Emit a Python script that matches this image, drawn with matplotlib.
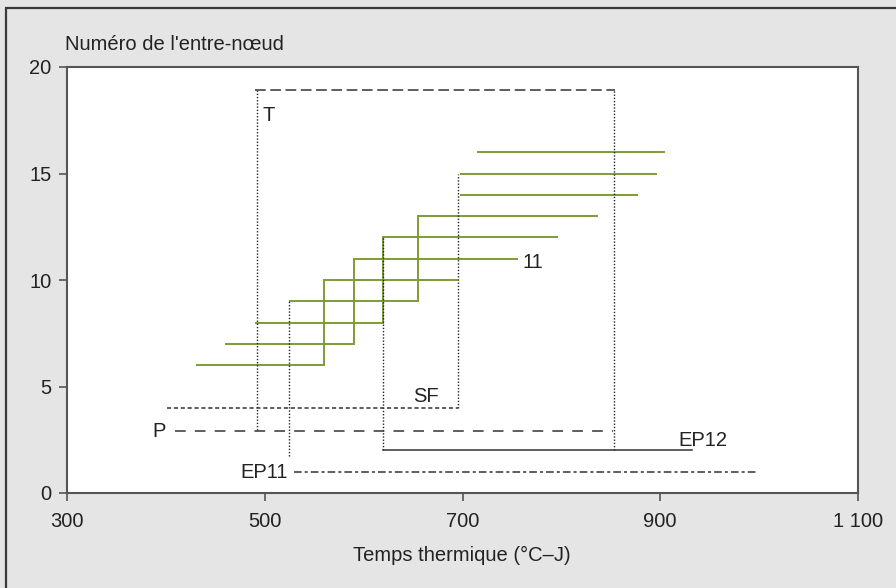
import matplotlib
matplotlib.use("Agg")
import matplotlib.pyplot as plt
from matplotlib.patches import Rectangle

plt.rcParams["font.family"] = ["Liberation Sans", "DejaVu Sans"]

# Internode number and its horizontal span (thermal time, °C-days)
internodes = [6, 7, 8, 9, 10, 11, 12, 13, 14, 15, 16]
start_tt = [430, 460, 490, 525, 560, 590, 620, 655, 697, 697, 715]
end_tt = [560, 590, 620, 655, 695, 756, 797, 837, 877, 897, 905]
# Step links: internode n ends where internode n+4 begins
step_links = [(6, 10), (7, 11), (8, 12), (9, 13)]

# Phenological phases: level, start, end
phase_names = ["T", "SF", "P", "EP12", "EP11"]
phase_level = [18.9, 4, 2.9, 2, 1]
phase_start = [490, 401, 409, 620, 530]
phase_end = [854, 695, 852, 932, 997]

# Vertical dotted guides: x, from, to
guide_x = [492, 525, 620, 695, 853]
guide_y0 = [2.95, 1.75, 2, 4, 2]
guide_y1 = [18.9, 9, 12, 15, 18.9]

xticks = [300, 500, 700, 900, 1100]
xtick_labels = ["300", "500", "700", "900", "1 100"]
yticks = [0, 5, 10, 15, 20]

W, H = 896, 588
FS = 14.5
fig = plt.figure(figsize=(W / 100, H / 100), dpi=100)
fig.patch.set_facecolor("#e5e5e5")
fig.add_artist(Rectangle((6 / W, -0.1), 1.2, 1 - 8 / H + 0.1,
                         transform=fig.transFigure, fill=False,
                         edgecolor="#3a3a3a", linewidth=1.6))

ax = fig.add_axes([67 / W, 1 - 493 / H, (858 - 67) / W, (493 - 67) / H])
ax.set_facecolor("white")
ax.set_xlim(300, 1100)
ax.set_ylim(0, 20)

green = "#7e9c36"
for n, s, e in zip(internodes, start_tt, end_tt):
    ax.plot([s, e], [n, n], color=green, lw=1.4, solid_capstyle="butt")
for a, b in step_links:
    xa = end_tt[internodes.index(a)]
    ax.plot([xa, xa], [a, b], color=green, lw=1.4)

for x, y0, y1 in zip(guide_x, guide_y0, guide_y1):
    ax.plot([x, x], [y0, y1], color="#222222", lw=1.0, ls=(0, (1, 1.3)))

styles = {
    "T": (0, (7, 3)),
    "SF": (0, (2.7, 1.8)),
    "P": (0, (7, 6)),
    "EP12": "-",
    "EP11": (0, (5, 2, 2, 2)),
}
for name, lv, s, e in zip(phase_names, phase_level, phase_start, phase_end):
    ax.plot([s, e], [lv, lv], color="#333333", lw=1.1, ls=styles[name])

tk = dict(fontsize=FS, color="#222222")
ax.text(498, 17.7, "T", ha="left", va="center", **tk)
ax.text(761, 10.8, "11", ha="left", va="center", **tk)
ax.text(650, 4.55, "SF", ha="left", va="center", **tk)
ax.text(400, 2.9, "P", ha="right", va="center", **tk)
ax.text(918, 2.45, "EP12", ha="left", va="center", **tk)
ax.text(523, 0.95, "EP11", ha="right", va="center", **tk)

for sp in ax.spines.values():
    sp.set_color("#555555")
    sp.set_linewidth(1.5)
ax.set_xticks(xticks)
ax.set_xticklabels(xtick_labels)
ax.set_yticks(yticks)
ax.tick_params(direction="out", length=6, width=1.2, color="#555555",
               labelsize=FS, labelcolor="#222222")
ax.tick_params(axis="x", pad=8)
ax.tick_params(axis="y", pad=5)

fig.text(65 / W, 1 - 45 / H, "Numéro de l'entre-nœud", ha="left", va="center",
         fontsize=FS, color="#222222")
fig.text(462 / W, 1 - 555 / H, "Temps thermique (°C–J)", ha="center", va="center",
         fontsize=FS, color="#222222")

fig.savefig("out.png", dpi=100, facecolor=fig.get_facecolor())
